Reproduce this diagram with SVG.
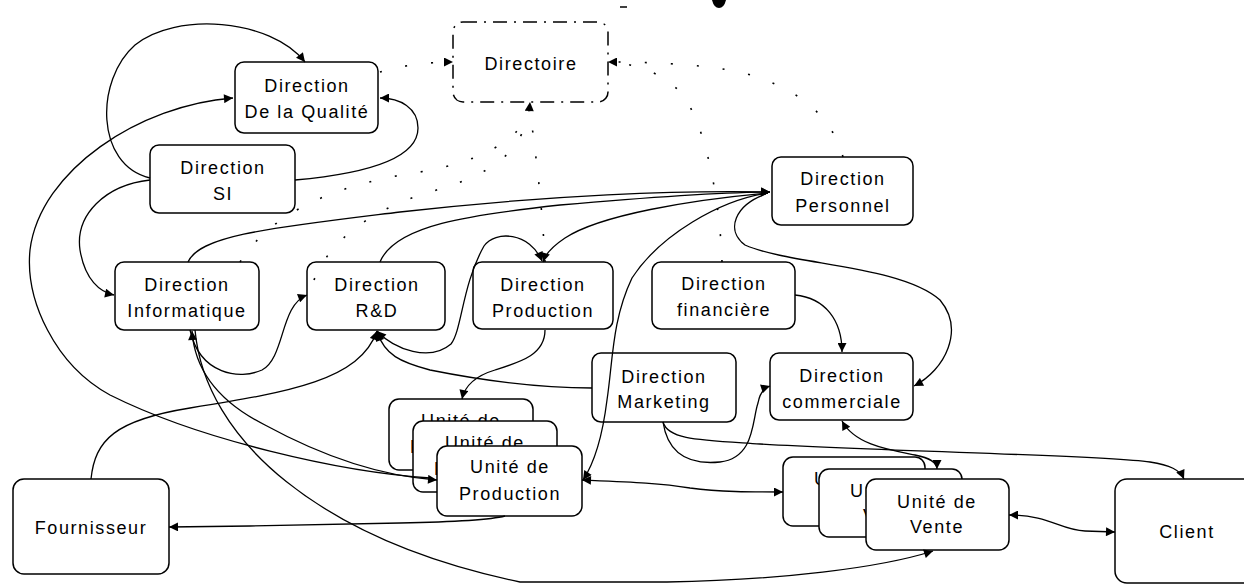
<svg xmlns="http://www.w3.org/2000/svg" width="1244" height="586" viewBox="0 0 1244 586">
  <defs>
    <style>
      .box { fill: #ffffff; stroke: #000000; stroke-width: 1.5; }
      .dashbox { fill: #ffffff; stroke: #000000; stroke-width: 1.5; stroke-dasharray: 14 7 2 7; }
      .lbl { font-family: "Liberation Sans", Arial, sans-serif; font-size: 18px; letter-spacing: 1.6px; fill: #000000; text-anchor: middle; }
      .link { fill: none; stroke: #000000; stroke-width: 1.3; }
      .dot { fill: none; stroke: #000000; stroke-width: 1.6; stroke-dasharray: 2 24; }
      .end { marker-end: url(#ah); }
      .both { marker-start: url(#ah); marker-end: url(#ah); }
    </style>
    <marker id="ah" viewBox="0 0 10 10" refX="10" refY="5" markerWidth="11" markerHeight="9" markerUnits="userSpaceOnUse" orient="auto-start-reverse">
      <path d="M0,0 L10,5 L0,10 z" fill="#000000"/>
    </marker>
  </defs>

  <!-- small marks along the top edge -->
  <g id="top-marks">
    <line x1="620" y1="7" x2="627" y2="7" stroke="#000" stroke-width="1.5"/>
    <path d="M712,0 L726,0 Q724,8 719,8 Q714,8 712,0 z" fill="#000"/>
  </g>

  <!-- nodes -->
  <g id="directoire">
    <rect class="dashbox" x="453" y="22" width="155" height="80" rx="10"/>
    <text class="lbl" x="531" y="70">Directoire</text>
  </g>
  <g id="qualite">
    <rect class="box" x="235" y="62" width="143" height="71" rx="9"/>
    <text class="lbl" x="307" y="92">Direction</text>
    <text class="lbl" x="307" y="118">De la Qualité</text>
  </g>
  <g id="si">
    <rect class="box" x="150" y="145" width="145" height="68" rx="9"/>
    <text class="lbl" x="223" y="174">Direction</text>
    <text class="lbl" x="223" y="200">SI</text>
  </g>
  <g id="personnel">
    <rect class="box" x="772" y="157" width="141" height="68" rx="9"/>
    <text class="lbl" x="843" y="185">Direction</text>
    <text class="lbl" x="843" y="212">Personnel</text>
  </g>
  <g id="informatique">
    <rect class="box" x="115" y="262" width="144" height="68" rx="9"/>
    <text class="lbl" x="187" y="291">Direction</text>
    <text class="lbl" x="187" y="317">Informatique</text>
  </g>
  <g id="rd">
    <rect class="box" x="307" y="262" width="138" height="68" rx="9"/>
    <text class="lbl" x="377" y="291">Direction</text>
    <text class="lbl" x="377" y="317">R&amp;D</text>
  </g>
  <g id="production">
    <rect class="box" x="473" y="262" width="140" height="67" rx="9"/>
    <text class="lbl" x="543" y="291">Direction</text>
    <text class="lbl" x="543" y="317">Production</text>
  </g>
  <g id="financiere">
    <rect class="box" x="652" y="262" width="143" height="67" rx="9"/>
    <text class="lbl" x="724" y="290">Direction</text>
    <text class="lbl" x="724" y="316">financière</text>
  </g>
  <g id="marketing">
    <rect class="box" x="592" y="353" width="144" height="69" rx="9"/>
    <text class="lbl" x="664" y="383">Direction</text>
    <text class="lbl" x="664" y="408">Marketing</text>
  </g>
  <g id="commerciale">
    <rect class="box" x="770" y="353" width="143" height="67" rx="9"/>
    <text class="lbl" x="842" y="382">Direction</text>
    <text class="lbl" x="842" y="408">commerciale</text>
  </g>

  <!-- stacked production units -->
  <g id="unite-production-3">
    <rect class="box" x="389" y="399" width="144" height="71" rx="10"/>
    <text class="lbl" x="461" y="427">Unité de</text>
    <text class="lbl" x="461" y="453">Production</text>
  </g>
  <g id="unite-production-2">
    <rect class="box" x="413" y="421" width="144" height="71" rx="10"/>
    <text class="lbl" x="485" y="449">Unité de</text>
    <text class="lbl" x="485" y="475">Production</text>
  </g>
  <g id="unite-production-1">
    <rect class="box" x="437" y="446" width="145" height="70" rx="10"/>
    <text class="lbl" x="510" y="473">Unité de</text>
    <text class="lbl" x="510" y="500">Production</text>
  </g>

  <!-- stacked sales units -->
  <g id="unite-vente-3">
    <rect class="box" x="783" y="457" width="142" height="69" rx="10"/>
    <text class="lbl" x="854" y="485">Unité de</text>
    <text class="lbl" x="854" y="510">Vente</text>
  </g>
  <g id="unite-vente-2">
    <rect class="box" x="819" y="469" width="143" height="68" rx="10"/>
    <text class="lbl" x="890" y="497">Unité de</text>
    <text class="lbl" x="890" y="522">Vente</text>
  </g>
  <g id="unite-vente-1">
    <rect class="box" x="866" y="479" width="143" height="71" rx="10"/>
    <text class="lbl" x="937" y="508">Unité de</text>
    <text class="lbl" x="937" y="533">Vente</text>
  </g>

  <g id="fournisseur">
    <rect class="box" x="13" y="479" width="156" height="95" rx="11"/>
    <text class="lbl" x="91" y="534">Fournisseur</text>
  </g>
  <g id="client">
    <rect class="box" x="1115" y="479" width="150" height="104" rx="12"/>
    <text class="lbl" x="1187" y="538">Client</text>
  </g>

  <!-- connectors -->
  <g id="connectors">
    <!-- SI / Qualité -->
    <path class="link end" d="M150,178 C95,165 95,80 135,45 C175,12 270,18 305,62"/>
    <path class="link end" d="M295,180 C340,176 418,165 418,128 C418,108 400,98 380,98"/>
    <path class="link end" d="M430,478 C340,472 200,440 110,395 C55,365 25,300 30,250 C40,170 140,105 233,98"/>
    <path class="link end" d="M150,180 C105,185 75,215 80,250 C85,280 100,292 114,295"/>

    <!-- towards Direction Personnel -->
    <path class="link end" d="M188,262 C200,235 270,228 400,212 C550,195 680,190 770,192"/>
    <path class="link end" d="M380,262 C395,225 470,215 560,205 C650,197 720,192 770,192"/>
    <path class="link end" d="M768,193 C690,200 600,215 565,238 C550,248 545,255 543,262"/>
    <path class="link end" d="M768,193 C720,200 660,235 632,278 C612,320 613,360 607,400 C602,440 593,465 583,480"/>
    <path class="link end" d="M766,194 C735,205 725,230 745,245 C790,265 900,265 940,300 C965,330 945,370 914,386"/>

    <!-- R&D / Production -->
    <path class="link both" d="M377,331 C395,350 430,362 451,344 C462,330 462,285 484,246 C495,230 530,232 542,261"/>
    <path class="link end" d="M592,388 C540,388 480,380 430,370 C400,362 385,355 377,332"/>
    <path class="link end" d="M545,330 C545,355 520,362 495,370 C475,376 465,385 462,399"/>

    <!-- commerciale / marketing -->
    <path class="link end" d="M795,295 C825,298 842,320 842,352"/>
    <path class="link end" d="M663,422 C668,455 690,465 720,462 C755,458 752,420 758,403 C760,392 764,388 770,386"/>
    <path class="link end" d="M663,422 C668,440 700,440 760,444 C900,452 1100,455 1150,462 C1170,465 1180,470 1184,479"/>

    <!-- units and outside partners -->
    <path class="link both" d="M582,480 C630,482 660,483 690,488 C720,492 750,492 783,492"/>
    <path class="link both" d="M842,421 C855,445 890,450 915,455 C930,458 937,462 937,469"/>
    <path class="link both" d="M1009,515 C1050,515 1060,530 1085,531 L1115,532"/>

    <!-- from Direction Informatique -->
    <path class="link end" d="M190,330 C200,375 240,380 262,370 C285,358 280,305 307,295"/>
    <path class="link both" d="M192,331 C195,375 225,405 265,425 C320,455 380,476 437,480"/>
    <path class="link end" d="M195,330 C205,440 320,540 520,582 L667,582 C780,580 880,568 933,551"/>

    <!-- Fournisseur -->
    <path class="link end" d="M91,479 C95,440 115,420 190,408 C290,392 360,380 377,331"/>
    <path class="link end" d="M505,516 C490,520 450,522 400,523 L250,526 L169,527"/>

    <!-- dotted reporting lines to the Directoire -->
    <path class="dot end" d="M380,72 C400,66 425,62 453,62"/>
    <path class="dot end" d="M843,157 C830,110 790,85 740,72 C700,64 650,62 608,62"/>
    <path class="dot" d="M722,262 C720,200 705,120 680,92 C665,75 640,65 612,62"/>
    <path class="dot end" d="M314,280 C330,240 370,212 420,195 C470,180 525,165 530,102"/>
    <path class="dot" d="M240,262 C270,215 330,185 420,172 C480,162 520,140 530,110"/>
    <path class="dot" d="M545,262 C542,200 535,150 530,110"/>
  </g>
</svg>
